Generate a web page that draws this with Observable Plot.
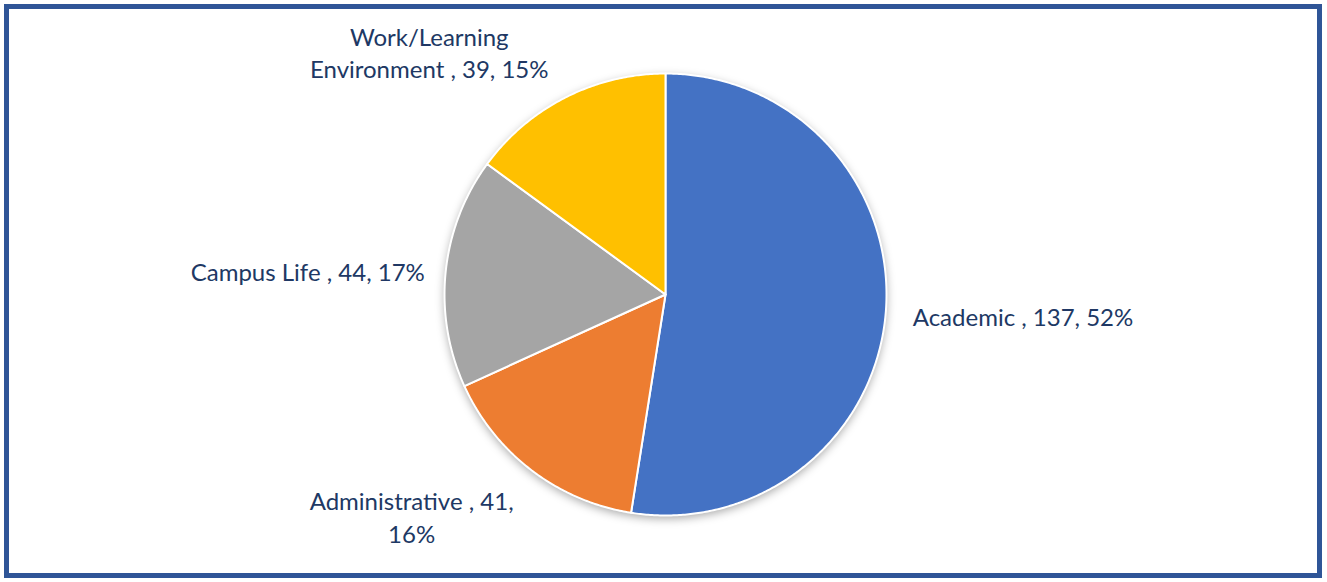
<!DOCTYPE html>
<html>
<head>
<meta charset="utf-8">
<script src="https://cdn.jsdelivr.net/npm/d3@7"></script>
<script src="https://cdn.jsdelivr.net/npm/@observablehq/plot@0.6"></script>
<style>
  html, body { margin: 0; padding: 0; background: #fff; }
  #wrap { position: relative; width: 1327px; height: 582px; overflow: hidden; }
  #frame { position: absolute; left: 4px; top: 4px; width: 1318px; height: 574px; box-sizing: border-box; border: 5px solid #2F5597; pointer-events: none; }
  .pie-shadow { filter: drop-shadow(0px 3px 5px rgba(0,0,0,0.35)); }
</style>
</head>
<body>
<div id="wrap"><div id="chart"></div><div id="frame"></div></div>
<script>
// ---- data ----
const categories = ["Academic ", "Administrative ", "Campus Life ", "Work/Learning\nEnvironment "];
const values = [137, 41, 44, 39];
const colors = ["#4472C4", "#ED7D31", "#A5A5A5", "#FFC000"];
const wrapBeforePct = [false, true, false, false]; // label wrapping as in the reference

// ---- build slices ----
const total = d3.sum(values);
const pie = d3.pie().sort(null).value(d => d)(values);
const slices = pie.map((p, i) => {
  const pts = [{x: 0, y: 0}];
  const steps = Math.max(2, Math.ceil((p.endAngle - p.startAngle) / (Math.PI / 360)));
  for (let k = 0; k <= steps; k++) {
    const a = p.startAngle + (p.endAngle - p.startAngle) * k / steps;
    pts.push({x: Math.sin(a), y: Math.cos(a)});
  }
  pts.push({x: 0, y: 0});
  return {i, pts, mid: (p.startAngle + p.endAngle) / 2};
});

const labelR = 1.113;
const labels = slices.map(s => {
  const v = values[s.i];
  const pct = Math.round(v / total * 100);
  const text = wrapBeforePct[s.i]
    ? `${categories[s.i]}, ${v},\n${pct}%`
    : `${categories[s.i]}, ${v}, ${pct}%`;
  return {x: labelR * Math.sin(s.mid), y: labelR * Math.cos(s.mid), text, i: s.i};
});

const cx = 665, cy = 294, R = 221;
const W = 1327, H = 582;
const font = "Lato, 'Open Sans', sans-serif";
const txtColor = "#203864";

// label layout per slice (anchor style)
const labelStyle = [
  {textAnchor: "start", lineAnchor: "middle", dx: 2, dy: 2},
  {textAnchor: "middle", lineAnchor: "top", dx: -105, dy: -3},
  {textAnchor: "end", lineAnchor: "middle", dx: 4, dy: 1},
  {textAnchor: "middle", lineAnchor: "bottom", dx: -125, dy: 3}
];

const marks = [
  Plot.dot([{x: 0, y: 0}], {x: "x", y: "y", r: R, fill: "white", stroke: "none", className: "pie-shadow"})
];
slices.forEach(s => {
  marks.push(Plot.line(s.pts, {x: "x", y: "y", fill: colors[s.i], stroke: "white", strokeWidth: 2, strokeLinejoin: "round", curve: "linear"}));
});
labels.forEach(l => {
  const st = labelStyle[l.i];
  marks.push(Plot.text([l], {x: "x", y: "y", text: "text", fill: txtColor, fontSize: 24, lineHeight: 1.35, ...st}));
});

const chart = Plot.plot({
  width: W,
  height: H,
  margin: 0,
  style: {fontFamily: font, background: "white", overflow: "visible"},
  x: {domain: [-1, 1], range: [cx - R, cx + R], axis: null},
  y: {domain: [-1, 1], range: [cy + R, cy - R], axis: null},
  marks
});
document.getElementById("chart").appendChild(chart);
</script>
</body>
</html>
